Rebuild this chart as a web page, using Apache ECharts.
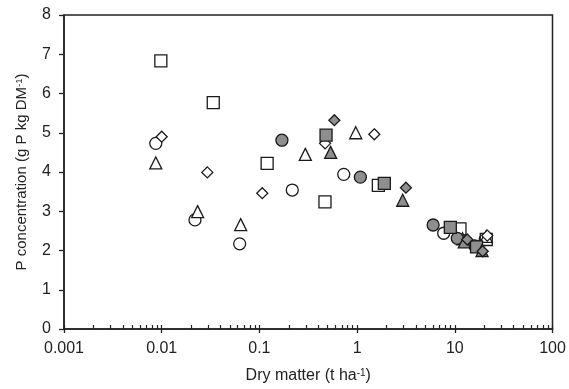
<!DOCTYPE html>
<html>
<head>
<meta charset="utf-8">
<script src="https://cdn.jsdelivr.net/npm/echarts@6/dist/echarts.min.js"></script>
<style>html,body{margin:0;padding:0;background:#fff}#c{width:569px;height:389px}</style>
</head>
<body>
<div id="c"></div>
<script>
// X tick labels and y ticks
const xTickLabels = [0.001, 0.01, 0.1, 1, 10, 100];
const yTicks = [0, 1, 2, 3, 4, 5, 6, 7, 8];

// Open symbols
const openCircleX = [0.0087, 0.0219, 0.0628, 0.217, 0.73, 7.7, 20.5];
const openCircleY = [4.73, 2.78, 2.17, 3.54, 3.94, 2.44, 2.28];
const openSquareX = [0.0098, 0.0337, 0.12, 0.469, 1.65, 11.3, 21];
const openSquareY = [6.83, 5.77, 4.22, 3.24, 3.66, 2.55, 2.28];
const openTriangleX = [0.0087, 0.0233, 0.0643, 0.295, 0.968, 12, 21];
const openTriangleY = [4.23, 2.99, 2.66, 4.45, 5.0, 2.3, 2.36];
const openDiamondX = [0.010, 0.0293, 0.107, 0.47, 1.50, 21.5];
const openDiamondY = [4.90, 3.99, 3.46, 4.73, 4.96, 2.38];

// Filled symbols
const fillCircleX = [0.170, 1.08, 6.0, 10.6, 16];
const fillCircleY = [4.81, 3.87, 2.65, 2.31, 2.12];
const fillSquareX = [0.481, 1.90, 9.0, 16.7];
const fillSquareY = [4.94, 3.71, 2.59, 2.09];
const fillTriangleX = [0.536, 2.93, 12.5, 19];
const fillTriangleY = [4.50, 3.28, 2.22, 2.0];
const fillDiamondX = [0.585, 3.16, 13.4, 19.3];
const fillDiamondY = [5.32, 3.60, 2.28, 1.98];

const zip = (xs, ys) => xs.map((x, i) => [x, ys[i]]);

const minorTickValues = [];
for (let e = -3; e < 2; e++) {
  for (let m = 1; m <= 9; m++) minorTickValues.push(+(m * Math.pow(10, e)).toPrecision(3));
}
minorTickValues.push(100);

const EDGE = '#1a1a1a';
const GRAY = '#8e8e8e';
function mk(name, xs, ys, symbol, size, filled) {
  return {
    name, type: 'scatter', xAxisIndex: 0, yAxisIndex: 0,
    data: zip(xs, ys), symbol, symbolSize: size,
    itemStyle: { color: filled ? GRAY : '#fff', borderColor: EDGE, borderWidth: 1.3, opacity: 1 },
    emphasis: { disabled: true }
  };
}

const font = 'Liberation Sans, Arial, sans-serif';
const chart = echarts.init(document.getElementById('c'), null, { renderer: 'canvas' });
chart.setOption({
  animation: false,
  backgroundColor: '#fff',
  grid: { left: 64, right: 16.5, top: 15, bottom: 56, show: true, borderColor: '#222', borderWidth: 1.5, backgroundColor: 'transparent' },
  xAxis: [{
    type: 'log', logBase: 10, min: 0.001, max: 100,
    name: 'Dry matter (t ha{sup|-1})', nameLocation: 'middle', nameGap: 39,
    nameTextStyle: { fontFamily: font, fontSize: 16, color: '#222', rich: { sup: { fontSize: 10, verticalAlign: 'top', fontFamily: font, color: '#222' } } },
    axisLine: { show: true, lineStyle: { color: '#222', width: 1.5 } },
    axisTick: { show: true, inside: false, length: 4, lineStyle: { color: '#222', width: 1.3 } },
    axisLabel: { fontFamily: font, fontSize: 16, color: '#222', margin: 12, customValues: xTickLabels, formatter: v => String(v) },
    splitLine: { show: false }
  }, {
    type: 'log', logBase: 10, min: 0.001, max: 100, position: 'bottom', gridIndex: 0,
    axisLine: { show: false },
    axisTick: { show: true, inside: true, length: 4, customValues: minorTickValues, lineStyle: { color: '#222', width: 1.2 } },
    axisLabel: { show: false },
    splitLine: { show: false }
  }],
  yAxis: {
    type: 'value', min: 0, max: 8, interval: 1,
    name: 'P concentration (g P kg DM{sup|-1})', nameLocation: 'middle', nameGap: 35, nameRotate: 90,
    nameTextStyle: { fontFamily: font, fontSize: 15, color: '#222', rich: { sup: { fontSize: 9.5, verticalAlign: 'top', fontFamily: font, color: '#222' } } },
    axisLine: { show: true, lineStyle: { color: '#222', width: 1.5 } },
    axisTick: { show: true, inside: false, length: 5, lineStyle: { color: '#222', width: 1.3 } },
    axisLabel: { fontFamily: font, fontSize: 16, color: '#222', margin: 13, customValues: yTicks },
    splitLine: { show: false }
  },
  series: [
    mk('Open circle', openCircleX, openCircleY, 'circle', 12, false),
    mk('Open square', openSquareX, openSquareY, 'rect', 12, false),
    mk('Open triangle', openTriangleX, openTriangleY, 'triangle', 12, false),
    mk('Open diamond', openDiamondX, openDiamondY, 'diamond', 11, false),
    mk('Filled circle', fillCircleX, fillCircleY, 'circle', 12, true),
    mk('Filled square', fillSquareX, fillSquareY, 'rect', 12, true),
    mk('Filled triangle', fillTriangleX, fillTriangleY, 'triangle', 12, true),
    mk('Filled diamond', fillDiamondX, fillDiamondY, 'diamond', 11, true)
  ]
});
</script>
</body>
</html>
